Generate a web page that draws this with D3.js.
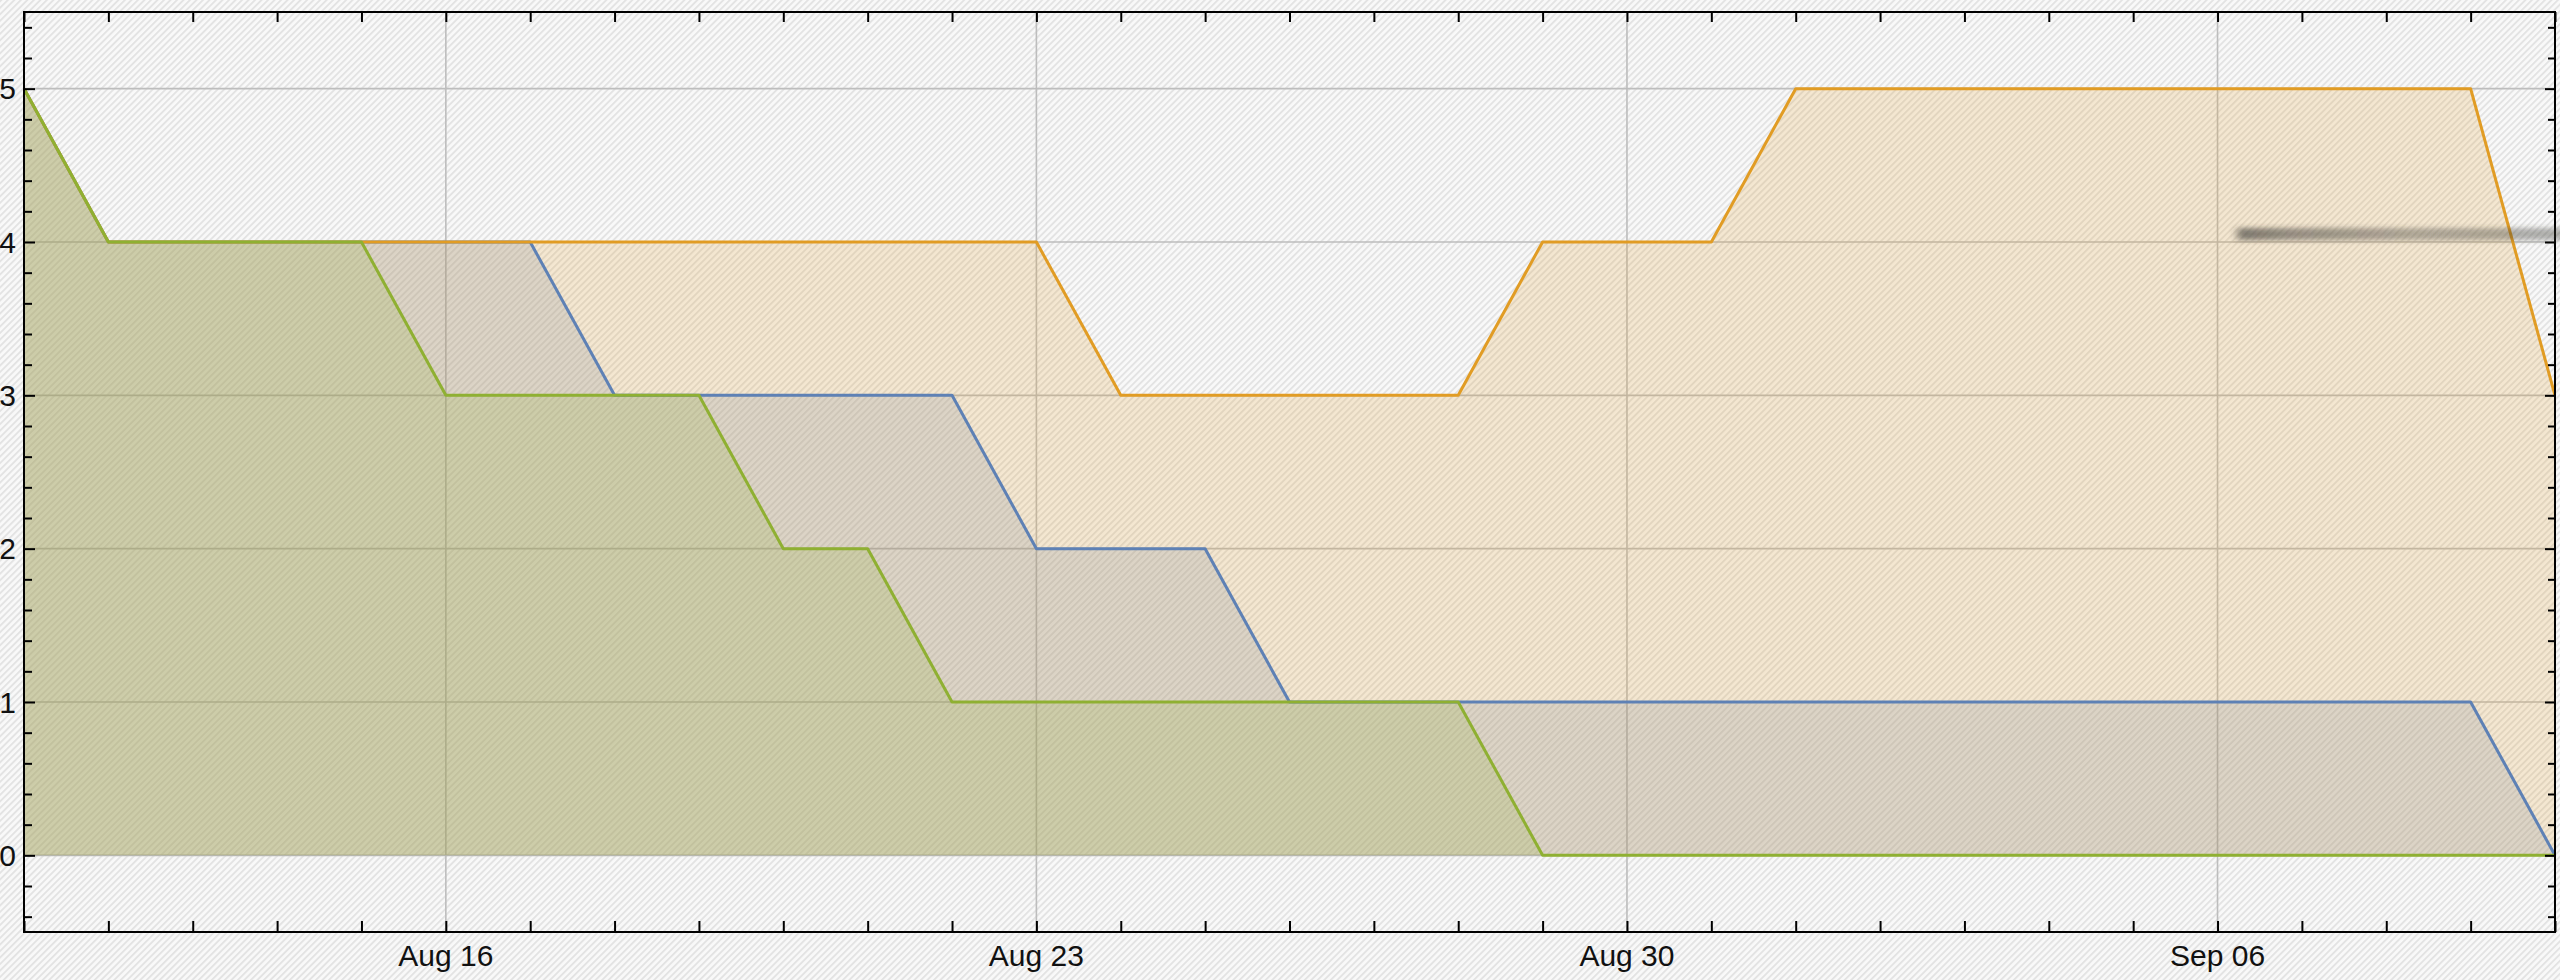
<!DOCTYPE html>
<html>
<head>
<meta charset="utf-8">
<script src="https://cdn.jsdelivr.net/npm/d3@7/dist/d3.min.js"></script>
<style>
  html, body { margin: 0; padding: 0; background: #f7f7f7; overflow: hidden; }
  svg { display: block; }
  text { font-family: "Liberation Sans", Arial, sans-serif; }
</style>
</head>
<body>
<svg id="chart" width="2560" height="980"></svg>
<script>
// Daily observations, 11 Aug – 10 Sep
const dates = d3.utcDays(new Date(Date.UTC(2015, 7, 11)), new Date(Date.UTC(2015, 8, 11)));
const blueValues   = [5,4,4,4,4,4,4,3,3,3,3,3,2,2,2,1,1,1,1,1,1,1,1,1,1,1,1,1,1,1,0];
const orangeValues = [5,4,4,4,4,4,4,4,4,4,4,4,4,3,3,3,3,3,4,4,4,5,5,5,5,5,5,5,5,5,3];
const greenValues  = [5,4,4,4,4,3,3,3,3,2,2,1,1,1,1,1,1,1,0,0,0,0,0,0,0,0,0,0,0,0,0];

const seriesNames  = ["blue", "orange", "green"];
const seriesColors = ["#5E81B5", "#E19C24", "#8FB032"];

const xLabelDates = ["2015-08-16", "2015-08-23", "2015-08-30", "2015-09-06"];
const xLabels     = ["Aug 16", "Aug 23", "Aug 30", "Sep 06"];
const yLabels     = [0, 1, 2, 3, 4, 5];
const yMinorTicks = [-0.4,-0.2,0.2,0.4,0.6,0.8,1.2,1.4,1.6,1.8,2.2,2.4,2.6,2.8,3.2,3.4,3.6,3.8,4.2,4.4,4.6,4.8,5.2,5.4];

const series = [blueValues, orangeValues, greenValues].map((vals, i) => ({
  name: seriesNames[i],
  color: seriesColors[i],
  points: vals.map((v, j) => ({ date: dates[j], value: v }))
}));

const W = 2560, H = 980;
const plot = { left: 24, right: 2555, top: 12, bottom: 932 };

const svg = d3.select("#chart");
const defs = svg.append("defs");

// Diagonal hatch used for the page background
const hatch = defs.append("pattern")
  .attr("id", "hatch")
  .attr("patternUnits", "userSpaceOnUse")
  .attr("width", 4.6).attr("height", 4.6)
  .attr("patternTransform", "rotate(45)");
hatch.append("rect").attr("width", 4.6).attr("height", 4.6).attr("fill", "#f9f9f9");
hatch.append("rect").attr("width", 1.9).attr("height", 4.6).attr("fill", "#e3e3e3");

// Soft blurred shadow band
const blur = defs.append("filter").attr("id", "soft")
  .attr("x", "-10%").attr("y", "-200%").attr("width", "120%").attr("height", "500%");
blur.append("feGaussianBlur").attr("stdDeviation", 2.6);

const grad = defs.append("linearGradient").attr("id", "bandGrad")
  .attr("x1", "0").attr("x2", "1").attr("y1", "0").attr("y2", "0");
[[0, 0], [0.03, 0.62], [0.16, 0.5], [0.5, 0.36], [1, 0.38]].forEach(([o, a]) =>
  grad.append("stop").attr("offset", o).attr("stop-color", "#3c3a36").attr("stop-opacity", a));

const clip = defs.append("clipPath").attr("id", "plotClip");
clip.append("rect")
  .attr("x", plot.left).attr("y", plot.top)
  .attr("width", plot.right - plot.left).attr("height", plot.bottom - plot.top);

svg.append("rect").attr("width", W).attr("height", H).attr("fill", "url(#hatch)");

const x = d3.scaleUtc()
  .domain([dates[0], dates[dates.length - 1]])
  .range([plot.left, plot.right]);
const y = d3.scaleLinear().domain([-0.5, 5.5]).range([plot.bottom, plot.top]);

const parse = d3.utcParse("%Y-%m-%d");
const labelDates = xLabelDates.map(parse);

// Grid lines
const grid = svg.append("g").attr("stroke", "#bdbdbd").attr("stroke-width", 1.6);
grid.selectAll("line.h").data(yLabels).join("line")
  .attr("x1", plot.left).attr("x2", plot.right)
  .attr("y1", d => y(d)).attr("y2", d => y(d));
grid.selectAll("line.v").data(labelDates).join("line")
  .attr("x1", d => x(d)).attr("x2", d => x(d))
  .attr("y1", plot.top).attr("y2", plot.bottom);

// Filled areas down to zero, then the lines
const area = d3.area().x(d => x(d.date)).y0(y(0)).y1(d => y(d.value));
const line = d3.line().x(d => x(d.date)).y(d => y(d.value));

const g = svg.append("g").attr("clip-path", "url(#plotClip)");
g.selectAll("path.area").data(series).join("path")
  .attr("class", "area")
  .attr("d", d => area(d.points))
  .attr("fill", d => d.color)
  .attr("fill-opacity", 0.19);
g.selectAll("path.line").data(series).join("path")
  .attr("class", "line")
  .attr("d", d => line(d.points))
  .attr("fill", "none")
  .attr("stroke", d => d.color)
  .attr("stroke-width", 3)
  .attr("stroke-linejoin", "round");

// Frame with inward ticks on all four sides
const axisStyle = sel => {
  sel.select(".domain").remove();
  sel.selectAll(".tick line").attr("stroke", "#000").attr("stroke-width", 2);
  sel.selectAll(".tick text").remove();
};

svg.append("g").attr("transform", `translate(0,${plot.bottom})`)
  .call(d3.axisBottom(x).tickValues(dates).tickSize(-11)).call(axisStyle);
svg.append("g").attr("transform", `translate(0,${plot.top})`)
  .call(d3.axisTop(x).tickValues(dates).tickSize(-10)).call(axisStyle);
svg.append("g").attr("transform", `translate(${plot.left},0)`)
  .call(d3.axisLeft(y).tickValues(yLabels).tickSize(-11)).call(axisStyle);
svg.append("g").attr("transform", `translate(${plot.left},0)`)
  .call(d3.axisLeft(y).tickValues(yMinorTicks).tickSize(-8)).call(axisStyle);
svg.append("g").attr("transform", `translate(${plot.right},0)`)
  .call(d3.axisRight(y).tickValues(yLabels).tickSize(-10)).call(axisStyle);
svg.append("g").attr("transform", `translate(${plot.right},0)`)
  .call(d3.axisRight(y).tickValues(yMinorTicks).tickSize(-7)).call(axisStyle);

svg.append("rect")
  .attr("x", plot.left).attr("y", plot.top)
  .attr("width", plot.right - plot.left).attr("height", plot.bottom - plot.top)
  .attr("fill", "none").attr("stroke", "#000").attr("stroke-width", 2);

// Tick labels
svg.append("g").selectAll("text").data(yLabels).join("text")
  .attr("x", 16).attr("y", d => y(d))
  .attr("dy", "0.36em")
  .attr("text-anchor", "end")
  .attr("font-size", 30)
  .attr("fill", "#111")
  .text(d => d);

svg.append("g").selectAll("text").data(labelDates).join("text")
  .attr("x", d => x(d)).attr("y", 966)
  .attr("text-anchor", "middle")
  .attr("font-size", 30)
  .attr("fill", "#111")
  .text((d, i) => xLabels[i]);

// Shadow band across the upper right
svg.append("rect")
  .attr("x", 2232).attr("y", 228)
  .attr("width", 360).attr("height", 12)
  .attr("fill", "url(#bandGrad)")
  .attr("filter", "url(#soft)");
</script>
</body>
</html>
